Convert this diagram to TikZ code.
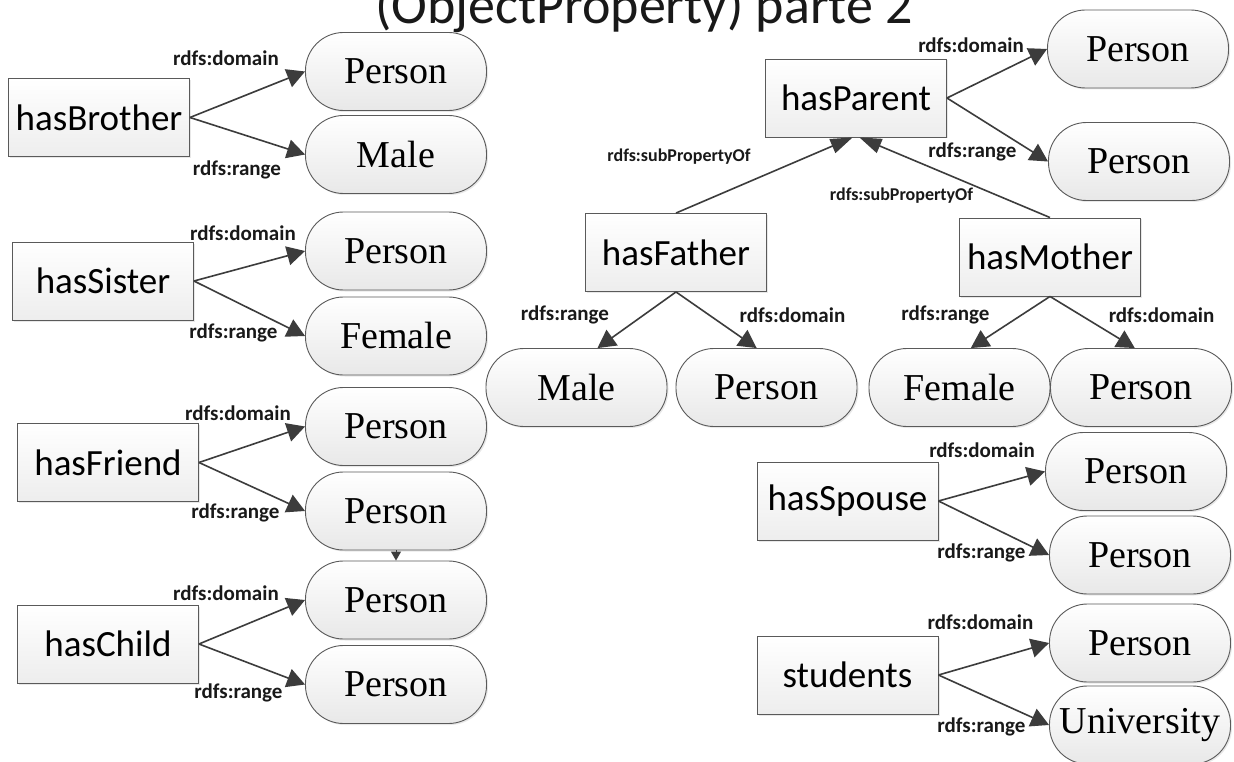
\documentclass[tikz,border=0pt]{standalone}
\usepackage{fontspec}
\setmainfont{Liberation Serif}
\newfontfamily\calfont{Carlito}
\usetikzlibrary{arrows.meta,shadows}
\definecolor{edgegray}{HTML}{3C3C3C}
\definecolor{boxline}{HTML}{5A5A5A}

\begin{document}
\begin{tikzpicture}[x=1pt,y=-1pt,
  softshadow/.style={drop shadow={opacity=0.18, shadow xshift=1.5pt, shadow yshift=-1.5pt}},
  prop/.style={draw=boxline, line width=0.9pt, top color=white, bottom color=gray!14,
    minimum width=181pt, minimum height=78pt, inner sep=0pt, softshadow,
    font=\calfont\fontsize{37}{40}\selectfont},
  cls/.style={draw=boxline, line width=0.9pt, rounded corners=38pt, top color=white,
    bottom color=gray!18, minimum width=181pt, minimum height=78pt, inner sep=0pt, softshadow,
    font=\fontsize{38}{40}\selectfont},
  lbl/.style={font=\calfont\bfseries\fontsize{21}{22}\selectfont, inner sep=0pt, text=black!90},
  sublbl/.style={font=\calfont\bfseries\fontsize{18}{19}\selectfont, inner sep=0pt, text=black!90},
  rel/.style={draw=edgegray, line width=1.6pt, -{Triangle[length=18pt,width=19pt]}},
]
\fill[white] (0,0) rectangle (1234,762);
\useasboundingbox (0,0) rectangle (1234,762);

% title
\node[font=\calfont\fontsize{54}{56}\selectfont, anchor=base, text=black!90] (title) at (644,24) {(ObjectProperty) parte 2};

% property boxes
\node[prop] (hb)  at (99,117.5)  {hasBrother};
\node[prop] (hs)  at (103,281)   {hasSister};
\node[prop] (hf)  at (108,462.5) {hasFriend};
\node[prop] (hc)  at (108,644)   {hasChild};
\node[prop] (hp)  at (856,98)    {hasParent};
\node[prop] (hfa) at (676,252.5) {hasFather};
\node[prop] (hm)  at (1050,257)  {hasMother};
\node[prop] (hsp) at (847.5,501) {hasSpouse};
\node[prop] (st)  at (847.5,675) {students};

% class nodes
\node[cls] (b1)  at (396,71.5)   {Person};
\node[cls] (b2)  at (396,154.5)  {Male};
\node[cls] (s1)  at (396,251)    {Person};
\node[cls] (s2)  at (396,336)    {Female};
\node[cls] (f1)  at (396,426.5)  {Person};
\node[cls] (f2)  at (396,511)    {Person};
\node[cls] (c1)  at (396,600)    {Person};
\node[cls] (c2)  at (396,684.5)  {Person};
\node[cls] (p1)  at (1138,49)    {Person};
\node[cls] (p2)  at (1139,161.5) {Person};
\node[cls] (fa1) at (576.5,387.5) {Male};
\node[cls] (fa2) at (766.5,387.5) {Person};
\node[cls] (m1)  at (959.5,387.5) {Female};
\node[cls] (m2)  at (1141,387.5)  {Person};
\node[cls] (sp1) at (1136,471.5) {Person};
\node[cls] (sp2) at (1140,555)   {Person};
\node[cls] (st1) at (1140,643)   {Person};
\node[cls] (st2) at (1140,725)   {University};

% domain / range links
\draw[rel] (hb.east) -- (b1.west);
\draw[rel] (hb.east) -- (b2.west);
\draw[rel] (hs.east) -- (s1.west);
\draw[rel] (hs.east) -- (s2.west);
\draw[rel] (hf.east) -- (f1.west);
\draw[rel] (hf.east) -- (f2.west);
\draw[rel] (hc.east) -- (c1.west);
\draw[rel] (hc.east) -- (c2.west);
\draw[rel] (hp.east) -- (p1.west);
\draw[rel] (hp.east) -- (p2.west);
\draw[rel] (hfa.south) -- (fa1.62);
\draw[rel] (hfa.south) -- (fa2.104);
\draw[rel] (hm.south) -- (m1.74);
\draw[rel] (hm.south) -- (m2.99);
\draw[rel] (hsp.east) -- (sp1.west);
\draw[rel] (hsp.east) -- (sp2.west);
\draw[rel] (st.east) -- (st1.west);
\draw[rel] (st.east) -- (st2.west);

% sub-property links
\draw[rel, -{Triangle[length=22pt,width=15pt]}] (hfa.north) -- (hp.265);
\draw[rel, -{Triangle[length=22pt,width=15pt]}] (hm.north) -- (hp.275);

% short link between the two stacked Person nodes
\draw[draw=edgegray, line width=1pt, -{Triangle[length=9pt,width=10pt]}] (f2.south) -- (c1.north);

% link labels
\node[lbl] (lb1) at (226,58)    {rdfs:domain};
\node[lbl] (lb2) at (237,170)   {rdfs:range};
\node[lbl] (ls1) at (243,233)   {rdfs:domain};
\node[lbl] (ls2) at (233.5,333) {rdfs:range};
\node[lbl] (lf1) at (238,413)   {rdfs:domain};
\node[lbl] (lf2) at (235.5,513) {rdfs:range};
\node[lbl] (lc1) at (226,593)   {rdfs:domain};
\node[lbl] (lc2) at (238.5,693) {rdfs:range};
\node[lbl] (lp1) at (971,45)    {rdfs:domain};
\node[lbl] (lp2) at (972.5,152) {rdfs:range};
\node[sublbl] (lsub1) at (679,157)   {rdfs:subPropertyOf};
\node[sublbl] (lsub2) at (901.5,196) {rdfs:subPropertyOf};
\node[lbl] (lfa1) at (565,315)    {rdfs:range};
\node[lbl] (lfa2) at (792.5,315)  {rdfs:domain};
\node[lbl] (lm1)  at (945.5,315)  {rdfs:range};
\node[lbl] (lm2)  at (1161.5,315) {rdfs:domain};
\node[lbl] (lsp1) at (982,450)    {rdfs:domain};
\node[lbl] (lsp2) at (981.5,553)  {rdfs:range};
\node[lbl] (lst1) at (980.5,622)  {rdfs:domain};
\node[lbl] (lst2) at (981.5,727)  {rdfs:range};
\end{tikzpicture}
\end{document}
